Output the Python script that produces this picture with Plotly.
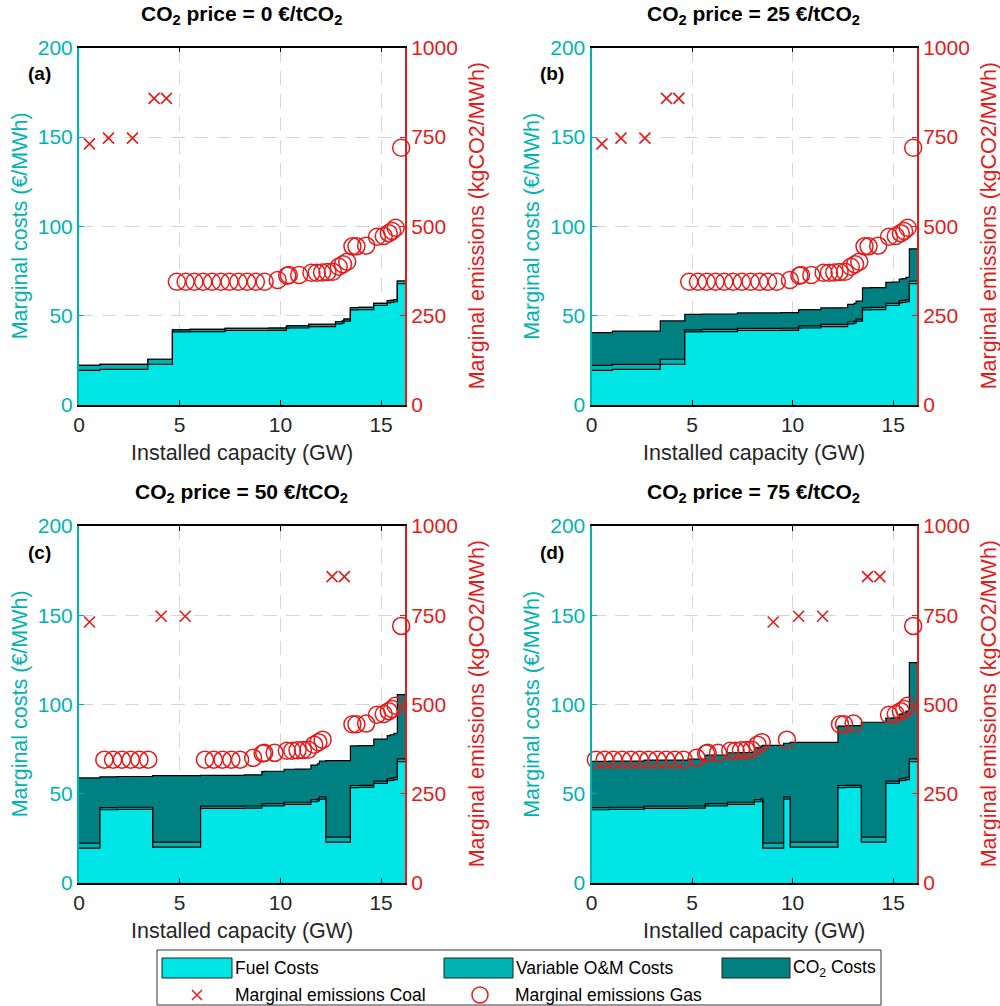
import plotly.graph_objects as go

# ---------------- data ----------------
co2_prices = [0, 25, 50, 75]          # EUR/tCO2, one per panel
panel_tags = ["(a)", "(b)", "(c)", "(d)"]

plant_type = ["Coal", "Coal", "Coal", "Coal", "Coal",
              "Gas", "Gas", "Gas", "Gas", "Gas", "Gas", "Gas", "Gas",
              "Gas", "Gas", "Gas", "Gas", "Gas", "Gas", "Gas", "Gas",
              "Gas", "Gas", "Gas", "Gas", "Gas", "Gas", "Gas", "Gas",
              "Gas", "Gas", "Gas", "Gas", "Gas", "Gas", "Gas", "Gas"]
capacity_gw = [1.04, 0.85, 1.53, 0.62, 0.60,
               0.436, 0.436, 0.436, 0.436, 0.436, 0.436, 0.436, 0.436,
               0.436, 0.436, 0.436, 0.86, 0.08, 0.08, 0.95, 0.266,
               0.266, 0.266, 0.266, 0.266, 0.32, 0.10, 0.32, 0.20,
               0.20, 0.76, 0.32, 0.35, 0.15, 0.18, 0.17, 0.38]
fuel_cost = [19.4, 19.9, 19.9, 22.8, 22.8,
             40.9, 40.9, 41.1, 41.1, 41.1, 41.1, 41.7, 41.7,
             41.7, 41.7, 41.7, 41.8, 43.0, 43.05, 43.1, 43.9,
             43.9, 43.9, 43.9, 43.9, 45.4, 45.8, 46.9, 53.3,
             53.3, 53.4, 55.7, 55.7, 57.2, 57.4, 57.8, 67.9]
vom_cost = [2.8, 2.8, 2.8, 2.8, 2.8,
            1.2, 1.2, 1.2, 1.2, 1.2, 1.2, 1.2, 1.2,
            1.2, 1.2, 1.2, 1.2, 1.2, 1.2, 1.2, 1.2,
            1.2, 1.2, 1.2, 1.2, 1.2, 1.2, 1.2, 1.2,
            1.2, 1.2, 1.2, 1.2, 1.2, 1.2, 1.2, 1.5]
emission_kg = [731, 747, 747, 858, 858,
               345, 345, 345, 345, 345, 345, 345, 345,
               345, 345, 345, 350, 362, 364, 364, 370,
               370, 371, 372, 373, 387, 394, 401, 444,
               444, 446, 471, 473, 481, 487, 496, 720]

x_ticks = [0, 5, 10, 15]
cost_ticks = [0, 50, 100, 150, 200]
emis_ticks = [0, 250, 500, 750, 1000]

# ---------------- styling ----------------
W, H = 1000, 1006
FONT = "Liberation Sans, Arial, Helvetica, sans-serif"
C_FUEL = "#00E5E5"
C_VOM = "#00B3B3"
C_CO2 = "#008080"
C_AXL = "#00B3B3"
RED = "#E61A1A"
GRID = "#D6D6D6"
TXT = "#262626"
TICK_SIZE = 21
LABEL_SIZE = 21.5

# panel pixel boxes: (x0, x1, ytop, ybottom)
boxes = [(79, 405, 47.7, 405), (591.5, 917, 47.7, 405),
         (79, 405, 526, 882.7), (591.5, 917, 526, 882.7)]


def fx(p):
    return p / W


def fy(p):
    return 1 - p / H


def ann(x, y, text, size, color, xanchor="center", angle=0):
    return dict(x=fx(x), y=fy(y), xref="paper", yref="paper", showarrow=False, text=text,
                xanchor=xanchor, yanchor="middle", textangle=angle,
                font=dict(family=FONT, size=size, color=color))


fig = go.Figure()
n = len(capacity_gw)
total_cap = sum(capacity_gw)
annotations = []
shapes = []

for i, price in enumerate(co2_prices):
    order = sorted(range(n), key=lambda k: fuel_cost[k] + vom_cost[k] + price * emission_kg[k] / 1000.0)
    bounds = [0.0]
    for k in order:
        bounds.append(bounds[-1] + capacity_gw[k])
    f_y = [fuel_cost[k] for k in order]
    v_y = [fuel_cost[k] + vom_cost[k] for k in order]
    t_y = [fuel_cost[k] + vom_cost[k] + price * emission_kg[k] / 1000.0 for k in order]
    f_y.append(f_y[-1]); v_y.append(v_y[-1]); t_y.append(t_y[-1])

    xa = "x" if i == 0 else f"x{i+1}"
    ya = f"y{2*i+1}" if i > 0 else "y"
    yb = f"y{2*i+2}"

    for yy, col, name in [(t_y, C_CO2, "CO2 Costs"), (v_y, C_VOM, "Variable O&M Costs"), (f_y, C_FUEL, "Fuel Costs")]:
        fig.add_trace(go.Scatter(x=bounds, y=yy, mode="lines", line=dict(color="black", width=1.2, shape="hv"),
                                 fill="tozeroy", fillcolor=col, xaxis=xa, yaxis=ya, showlegend=False,
                                 name=name, hoverinfo="skip"))

    mids_c, em_c, mids_g, em_g = [], [], [], []
    for j, k in enumerate(order):
        mid = bounds[j] + capacity_gw[k] / 2.0
        if plant_type[k] == "Coal":
            mids_c.append(mid); em_c.append(emission_kg[k])
        else:
            mids_g.append(mid); em_g.append(emission_kg[k])
    fig.add_trace(go.Scatter(x=mids_c, y=em_c, mode="markers", xaxis=xa, yaxis=yb, showlegend=False,
                             name="Marginal emissions Coal", cliponaxis=False,
                             marker=dict(symbol="x-thin-open", size=11, color=RED, line=dict(color=RED, width=1.6))))
    fig.add_trace(go.Scatter(x=mids_g, y=em_g, mode="markers", xaxis=xa, yaxis=yb, showlegend=False,
                             name="Marginal emissions Gas", cliponaxis=False,
                             marker=dict(symbol="circle-open", size=17, color=RED, line=dict(color=RED, width=1.5))))

    x0, x1, yt, ybm = boxes[i]
    xkey = "xaxis" if i == 0 else f"xaxis{i+1}"
    ykey = "yaxis" if i == 0 else f"yaxis{2*i+1}"
    ykey2 = f"yaxis{2*i+2}"
    fig.layout[xkey] = dict(domain=[fx(x0), fx(x1)], anchor=ya, range=[0, total_cap], tickvals=x_ticks,
                            showgrid=True, gridcolor=GRID, griddash="14px,9px", gridwidth=1.3,
                            showline=True, linecolor="black", linewidth=1.5, mirror="ticks",
                            ticks="inside", ticklen=5, tickcolor="black", zeroline=False, automargin=False,
                            tickfont=dict(family=FONT, size=TICK_SIZE, color=TXT))
    fig.layout[ykey] = dict(domain=[fy(ybm), fy(yt)], anchor=xa, range=[0, 200], tickvals=cost_ticks,
                            showgrid=True, gridcolor=GRID, griddash="14px,9px", gridwidth=1.3,
                            showline=True, linecolor=C_AXL, linewidth=2, ticks="inside", ticklen=5,
                            tickcolor=C_AXL, zeroline=False, automargin=False,
                            tickfont=dict(family=FONT, size=TICK_SIZE, color=C_AXL))
    fig.layout[ykey2] = dict(domain=[fy(ybm), fy(yt)], anchor=xa, overlaying=ya, side="right", range=[0, 1000],
                             tickvals=emis_ticks, showgrid=False, showline=True, linecolor=RED, linewidth=2,
                             ticks="inside", ticklen=5, tickcolor=RED, zeroline=False, automargin=False,
                             tickfont=dict(family=FONT, size=TICK_SIZE, color=RED))

    cx = (x0 + x1) / 2
    cy = (yt + ybm) / 2
    annotations.append(ann(cx - 1, yt - 33, f"<b>CO<sub>2</sub> price = {price} €/tCO<sub>2</sub></b>", 21, "black"))
    annotations.append(ann(x0 - 59, cy, "Marginal costs (€/MWh)", LABEL_SIZE, C_AXL, angle=-90))
    annotations.append(ann(x1 + 72, cy, "Marginal emissions (kgCO2/MWh)", LABEL_SIZE, RED, angle=-90))
    annotations.append(ann(cx, ybm + 48, "Installed capacity (GW)", LABEL_SIZE, TXT))
    annotations.append(ann(x0 - 40, yt + 26, f"<b>{panel_tags[i]}</b>", 19, "black"))

# ---------------- manual legend ----------------
shapes.append(dict(type="rect", xref="paper", yref="paper", x0=fx(157), x1=fx(881), y0=fy(1005), y1=fy(950),
                   line=dict(color="#333333", width=1), fillcolor="white"))
leg_items = [(162, 232, C_FUEL, "Fuel Costs"), (444, 513, C_VOM, "Variable O&M Costs"),
             (722, 790, C_CO2, "CO<sub>2</sub> Costs")]
for a, b, col, txt in leg_items:
    shapes.append(dict(type="rect", xref="paper", yref="paper", x0=fx(a), x1=fx(b), y0=fy(978), y1=fy(958),
                       line=dict(color="#222222", width=1), fillcolor=col))
    annotations.append(ann(b + 1, 968, txt, 17.5, "black", xanchor="left"))
shapes.append(dict(type="line", xref="paper", yref="paper", x0=fx(192), x1=fx(202), y0=fy(990), y1=fy(1000),
                   line=dict(color=RED, width=1.5)))
shapes.append(dict(type="line", xref="paper", yref="paper", x0=fx(192), x1=fx(202), y0=fy(1000), y1=fy(990),
                   line=dict(color=RED, width=1.5)))
shapes.append(dict(type="circle", xref="paper", yref="paper", x0=fx(472), x1=fx(488), y0=fy(1003), y1=fy(987),
                   line=dict(color=RED, width=1.5)))
annotations.append(ann(233, 995, "Marginal emissions Coal", 17.5, "black", xanchor="left"))
annotations.append(ann(513, 995, "Marginal emissions Gas", 17.5, "black", xanchor="left"))

fig.update_layout(width=W, height=H, margin=dict(l=0, r=0, t=0, b=0, autoexpand=False), paper_bgcolor="white",
                  plot_bgcolor="white", showlegend=False, annotations=annotations, shapes=shapes,
                  font=dict(family=FONT))
fig.write_html("out.html")
